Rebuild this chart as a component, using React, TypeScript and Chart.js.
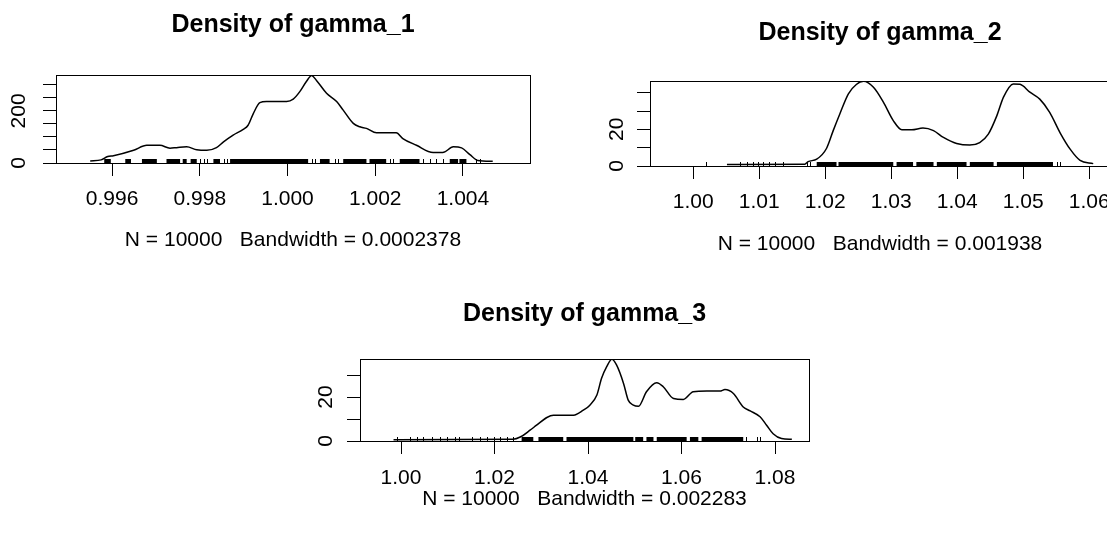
import { useEffect, useRef } from "react";
import { Chart, registerables } from "chart.js";

Chart.register(...registerables);

const FONT = "'Liberation Sans', Arial, Helvetica, sans-serif";

// ---------- gamma_1 ----------
const g1X = [0.9955, 0.99575, 0.9959, 0.99603, 0.99649, 0.99679, 0.99709, 0.99732, 0.99747, 0.9977, 0.99793, 0.99816, 0.99838, 0.99854, 0.99876, 0.99899, 0.9991, 0.99922, 0.99937, 0.99952, 0.99998, 1.00013, 1.00028, 1.00043, 1.00055, 1.00066, 1.00089, 1.00112, 1.00127, 1.0015, 1.00165, 1.0018, 1.00203, 1.00248, 1.00263, 1.00294, 1.00332, 1.00354, 1.00378, 1.00397, 1.00416, 1.00434, 1.00468];
const g1Y = [8, 12, 25, 28, 49, 68, 68, 57, 59, 62, 51, 49, 59, 81, 107, 129, 145, 190, 232, 236, 236, 245, 274, 313, 336, 317, 268, 236, 203, 152, 139, 133, 116, 116, 94, 68, 40, 40, 62, 58, 32, 10, 7];
const g1XTicks = [0.996, 0.998, 1.0, 1.002, 1.004];
const g1YTicks = [0, 50, 100, 150, 200, 250, 300];
const g1YLabels = [0, 200];
const g1RugSeg = [[0.99582, 0.99597], [0.9963, 0.99643], [0.99668, 0.99702], [0.99724, 0.99755], [0.99761, 0.9977], [0.99779, 0.99793], [0.99831, 0.99846], [0.99869, 1.00047], [1.00074, 1.00096], [1.00127, 1.0018], [1.00187, 1.00225], [1.00256, 1.00301], [1.0037, 1.00389], [1.00392, 1.00408]];
const g1RugTicks = [0.998, 0.99809, 0.99817, 0.99854, 0.99861, 1.00055, 1.00062, 1.00108, 1.00115, 1.00233, 1.00241, 1.00309, 1.00324, 1.00339, 1.00354, 1.0043, 1.00438];

// ---------- gamma_2 ----------
const g2X = [1.0051, 1.0169, 1.0174, 1.0187, 1.0202, 1.0212, 1.0222, 1.0235, 1.0247, 1.0258, 1.0273, 1.0288, 1.0303, 1.0316, 1.0331, 1.0348, 1.0364, 1.0379, 1.0399, 1.0419, 1.0434, 1.0447, 1.046, 1.047, 1.0485, 1.0495, 1.051, 1.0525, 1.054, 1.0556, 1.0571, 1.0586, 1.0606];
const g2Y = [0.8, 1, 2.4, 3.7, 9.7, 19.3, 28.4, 39.4, 44.5, 46.2, 43, 34.9, 24.8, 19.8, 19.8, 20.7, 19.3, 15.6, 12.3, 11.4, 12.8, 17.4, 27.5, 37.6, 44.8, 44.6, 40.3, 36.5, 29.3, 18, 9.2, 3.1, 1.3];
const g2XTicks = [1.0, 1.01, 1.02, 1.03, 1.04, 1.05, 1.06];
const g2YTicks = [0, 10, 20, 30, 40];
const g2YLabels = [0, 20];
const g2RugSeg = [[1.0187, 1.0217], [1.022, 1.0303], [1.0308, 1.0333], [1.0338, 1.0364], [1.0369, 1.0414], [1.0419, 1.0455], [1.046, 1.0545]];
const g2RugTicks = [1.002, 1.0071, 1.0081, 1.0091, 1.0098, 1.0106, 1.0114, 1.0124, 1.0136, 1.0172, 1.0177, 1.0551, 1.0556];

// ---------- gamma_3 ----------
const g3X = [0.9984, 1.024, 1.0255, 1.0276, 1.029, 1.0312, 1.0326, 1.0369, 1.039, 1.0404, 1.0419, 1.0429, 1.044, 1.0451, 1.0461, 1.0476, 1.0486, 1.0497, 1.0508, 1.0525, 1.0547, 1.0561, 1.0583, 1.0604, 1.0625, 1.0654, 1.0682, 1.0693, 1.0711, 1.0732, 1.0747, 1.0768, 1.0782, 1.0796, 1.0814, 1.0836];
const g3Y = [0.6, 0.8, 1.8, 4.9, 7.2, 10.7, 11.7, 11.7, 14, 16.3, 20.9, 28.5, 33.8, 37.2, 34.6, 26.2, 18.6, 16.3, 15.8, 22.4, 26.5, 24.7, 19.3, 18.9, 22.4, 22.7, 22.7, 23.4, 21.6, 15.5, 13.7, 11, 7.2, 3.3, 1.1, 0.8];
const g3XTicks = [1.0, 1.02, 1.04, 1.06, 1.08];
const g3YTicks = [0, 10, 20, 30];
const g3YLabels = [0, 20];
const g3RugSeg = [[1.0258, 1.0283], [1.0294, 1.0347], [1.0354, 1.0497], [1.0501, 1.0518], [1.0525, 1.054], [1.0547, 1.0611], [1.0618, 1.0636], [1.0643, 1.0732]];
const g3RugTicks = [0.99907, 1.0019, 1.0034, 1.0048, 1.0066, 1.0083, 1.0098, 1.0116, 1.0123, 1.0151, 1.0169, 1.0183, 1.0198, 1.0212, 1.0226, 1.024, 1.0739, 1.0761, 1.0768];

type PanelDef = {
  title: string;
  xlab: string;
  xs: number[];
  ys: number[];
  xTicks: number[];
  xDec: number;
  yTicks: number[];
  yLabels: number[];
  rugSeg: number[][];
  rugTicks: number[];
  xMin: number;
  xMax: number;
  yMax: number;
  cx: number; cy: number; w: number; h: number;
  L: number; T: number; R: number; B: number;
  titlePadTop: number;
  xTickPad: number;
  xTitlePadBottom: number;
  yTickPad: number;
};

const panels: PanelDef[] = [
  {
    title: "Density of gamma_1", xlab: "N = 10000   Bandwidth = 0.0002378",
    xs: g1X, ys: g1Y, xTicks: g1XTicks, xDec: 3, yTicks: g1YTicks, yLabels: g1YLabels,
    rugSeg: g1RugSeg, rugTicks: g1RugTicks,
    xMin: 0.99472, xMax: 1.00553, yMax: 338,
    cx: 0, cy: 0, w: 560, h: 270, L: 56, T: 75, R: 530, B: 163,
    titlePadTop: 10, xTickPad: 11, xTitlePadBottom: 17, yTickPad: 6,
  },
  {
    title: "Density of gamma_2", xlab: "N = 10000   Bandwidth = 0.001938",
    xs: g2X, ys: g2Y, xTicks: g2XTicks, xDec: 2, yTicks: g2YTicks, yLabels: g2YLabels,
    rugSeg: g2RugSeg, rugTicks: g2RugTicks,
    xMin: 0.99344, xMax: 1.06314, yMax: 46.4,
    cx: 580, cy: 0, w: 560, h: 270, L: 70, T: 81, R: 530, B: 166,
    titlePadTop: 18, xTickPad: 11, xTitlePadBottom: 13, yTickPad: 8,
  },
  {
    title: "Density of gamma_3", xlab: "N = 10000   Bandwidth = 0.002283",
    xs: g3X, ys: g3Y, xTicks: g3XTicks, xDec: 2, yTicks: g3YTicks, yLabels: g3YLabels,
    rugSeg: g3RugSeg, rugTicks: g3RugTicks,
    xMin: 0.99123, xMax: 1.08727, yMax: 37.3,
    cx: 280, cy: 266, w: 560, h: 270, L: 80, T: 93, R: 529, B: 175,
    titlePadTop: 33, xTickPad: 12, xTitlePadBottom: 24, yTickPad: 9,
  },
];

const boxPlugin = {
  id: "rbox",
  afterDraw(chart: any) {
    const { ctx, chartArea: a } = chart;
    ctx.save();
    ctx.strokeStyle = "#000";
    ctx.lineWidth = 1;
    ctx.strokeRect(Math.round(a.left) + 0.5, Math.round(a.top) + 0.5, Math.round(a.right - a.left), Math.round(a.bottom - a.top));
    ctx.restore();
  },
};

const rugPlugin = {
  id: "rug",
  afterDatasetsDraw(chart: any, _args: any, opts: any) {
    const { ctx, chartArea: a } = chart;
    const xs = chart.scales.x;
    const hgt = 4;
    ctx.save();
    ctx.fillStyle = "#000";
    for (const [s, e] of opts.segments || []) {
      const x1 = xs.getPixelForValue(s);
      const x2 = xs.getPixelForValue(e);
      ctx.fillRect(x1, a.bottom - hgt, Math.max(1, x2 - x1), hgt);
    }
    for (const v of opts.ticks || []) {
      const x = Math.round(xs.getPixelForValue(v));
      ctx.fillRect(x, a.bottom - hgt, 1, hgt);
    }
    ctx.restore();
  },
};

function DensityPanel({ p }: { p: PanelDef }) {
  const ref = useRef<HTMLCanvasElement>(null);
  useEffect(() => {
    const titleSize = 25;
    const titleLH = Math.round(titleSize * 1.2);
    const chart = new Chart(ref.current as HTMLCanvasElement, {
      type: "line",
      data: {
        datasets: [
          {
            data: p.xs.map((x, i) => ({ x, y: p.ys[i] })),
            borderColor: "#000",
            borderWidth: 1.5,
            pointRadius: 0,
            cubicInterpolationMode: "monotone",
            fill: false,
          },
        ],
      },
      options: {
        animation: false,
        responsive: false,
        devicePixelRatio: 1,
        layout: { padding: { left: 0, top: 0, right: p.w - p.R, bottom: 0 } },
        plugins: {
          legend: { display: false },
          tooltip: { enabled: false },
          title: {
            display: true,
            fullSize: false,
            text: p.title,
            color: "#000",
            font: { family: FONT, size: titleSize, weight: "bold", lineHeight: 1.2 },
            padding: { top: p.titlePadTop, bottom: p.T - p.titlePadTop - titleLH },
          },
          rug: { segments: p.rugSeg, ticks: p.rugTicks },
        } as any,
        scales: {
          x: {
            type: "linear",
            min: p.xMin,
            max: p.xMax,
            afterBuildTicks: (s: any) => {
              s.ticks = p.xTicks.map((v) => ({ value: v }));
            },
            afterFit: (s: any) => {
              s.height = p.h - p.B;
            },
            grid: { drawOnChartArea: false, drawTicks: true, tickLength: 13, color: "#000", lineWidth: 1 },
            border: { display: false },
            ticks: {
              autoSkip: false,
              maxRotation: 0,
              minRotation: 0,
              padding: p.xTickPad,
              color: "#000",
              font: { family: FONT, size: 21, lineHeight: 1.2 },
              callback: (v: any) => Number(v).toFixed(p.xDec),
            },
            title: {
              display: true,
              text: p.xlab,
              color: "#000",
              font: { family: FONT, size: 21, lineHeight: 1.2 },
              padding: { top: 0, bottom: p.xTitlePadBottom },
            },
          },
          y: {
            type: "linear",
            min: 0,
            max: p.yMax,
            afterBuildTicks: (s: any) => {
              s.ticks = p.yTicks.map((v) => ({ value: v }));
            },
            afterFit: (s: any) => {
              s.width = p.L;
            },
            grid: { drawOnChartArea: false, drawTicks: true, tickLength: 13, color: "#000", lineWidth: 1 },
            border: { display: false },
            ticks: {
              autoSkip: false,
              minRotation: 90,
              maxRotation: 90,
              crossAlign: "center",
              padding: p.yTickPad,
              color: "#000",
              font: { family: FONT, size: 21, lineHeight: 1.2 },
              callback: (v: any) => (p.yLabels.includes(Number(v)) ? String(v) : ""),
            },
          },
        },
      } as any,
      plugins: [rugPlugin, boxPlugin],
    });
    return () => chart.destroy();
  }, [p]);
  return (
    <canvas
      ref={ref}
      width={p.w}
      height={p.h}
      style={{ position: "absolute", left: p.cx, top: p.cy, width: p.w, height: p.h }}
    />
  );
}

export default function App() {
  return (
    <div
      style={{
        position: "fixed",
        left: 0,
        top: 0,
        width: 1107,
        height: 536,
        overflow: "hidden",
        background: "#fff",
      }}
    >
      {panels.map((p, i) => (
        <DensityPanel key={i} p={p} />
      ))}
    </div>
  );
}
